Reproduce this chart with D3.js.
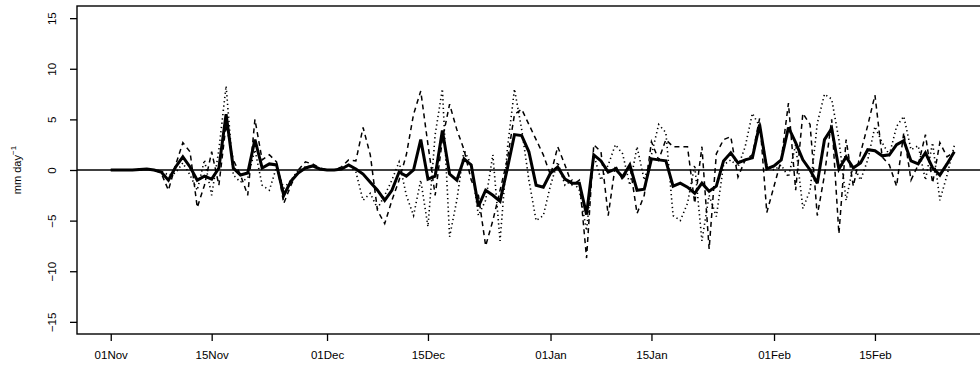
<!DOCTYPE html>
<html>
<head>
<meta charset="utf-8">
<script src="https://cdn.jsdelivr.net/npm/d3@7"></script>
<style>
html,body{margin:0;padding:0;background:#fff;}
svg{display:block;font-family:"Liberation Sans",Arial,sans-serif;}
</style>
</head>
<body>
<svg id="chart" width="980" height="376"></svg>
<script>
// ---- data (daily values, first day = 01 Nov) ----
const startDate = "1990-11-01";
const solidSeries = [
 0,0,0,0,0.05,0.1,0,-0.2,-1.0,0.3,
 1.3,0.3,-1.0,-0.6,-0.9,0.2,5.5,0.2,-0.5,-0.3,
 3.0,0.2,0.6,0.5,-2.5,-1.1,-0.3,0.2,0.4,0.1,
 0,0,0.1,0.5,0.1,-0.4,-1.2,-2.0,-3.0,-2.0,
 -0.2,-0.6,0,3.0,-0.9,-0.6,3.9,-0.4,-1.0,1.1,
 0.5,-3.6,-2.0,-2.5,-3.1,0.1,3.5,3.4,1.8,-1.5,
 -1.7,-0.3,0.3,-0.9,-1.3,-1.3,-4.4,1.5,0.9,-0.2,
 0.1,-0.7,0.5,-2.0,-1.9,1.1,1.0,0.9,-1.6,-1.3,
 -1.7,-2.3,-1.3,-2.1,-1.6,0.9,1.7,0.7,1.0,1.2,
 4.5,0.1,0.4,1.0,4.2,2.7,1.0,0,-1.3,3.0,
 4.1,0.1,1.3,0.2,0.7,2.0,1.9,1.4,1.5,2.5,
 2.9,0.9,0.6,1.7,0.2,-0.5,0.6,1.8
];
const dashedSeries = [
 0,0,0,0,0.1,0.1,0,-0.3,-2.0,0.5,
 2.7,1.8,-3.7,-1.5,1.8,-1.5,4.5,1.0,-0.5,-2.5,
 5.0,1.0,1.5,0.8,-3.3,-1.5,0,0.8,0.6,0.2,
 0,0,0.3,1.0,0.9,4.2,1.5,-4.0,-5.3,-3.0,
 -1.0,1.5,5.5,7.8,2.5,-2.5,3.0,6.5,4.0,2.0,
 -1.0,-2.5,-7.5,-5.0,-2.0,1.0,5.5,6.0,4.5,3.0,
 1.5,-0.5,2.3,0.5,-1.5,-1.0,-8.7,2.5,1.8,-4.5,
 0.5,-1.0,0.5,-4.3,-2.5,2.8,1.0,3.0,2.3,2.3,
 2.3,-3.3,2.3,-7.8,1.6,3.0,3.3,-0.7,1.0,1.5,
 5.1,-4.2,-1.6,1.0,6.6,-2.0,5.6,4.5,-4.5,-0.5,
 5.0,-6.3,3.0,-1.6,1.7,4.4,7.4,1.3,0.5,-1.6,
 3.7,-1.0,0.5,3.5,-1.3,2.7,1.3,1.8
];
const dottedSeries = [
 0,0,0,0,0,0.1,0,-0.1,-0.5,-0.3,
 0.7,-0.5,-2.0,1.0,-2.5,2.0,8.3,-0.5,-1.2,-0.8,
 2.0,-1.5,-2.0,0.3,-1.8,-1.0,0,0.3,0.4,0.1,
 0,0,0.2,0.5,-0.2,-3.0,-2.3,-3.8,-2.5,-1.0,
 0.8,-2.5,-4.5,-1.0,-5.6,3.5,8.0,-6.6,-3.0,2.0,
 0.5,-4.5,-3.0,1.5,-7.0,2.0,8.0,4.0,-1.0,-5.0,
 -4.5,-1.5,0.8,-1.5,-1.0,-2.0,-6.0,1.5,-1.0,0.5,
 2.5,1.6,-1.5,2.3,-1.0,1.5,4.5,3.7,-4.5,-5.0,
 -3.3,0.5,-7.0,-2.5,-4.6,0.5,1.0,0.3,2.3,5.6,
 4.3,0.5,0,0.5,-0.7,2.5,-3.8,-2.0,4.6,7.5,
 7.0,3.0,-3.0,0.5,-1.0,1.0,4.3,2.7,1.5,4.3,
 5.3,2.0,2.4,-1.0,2.7,-3.0,-0.5,2.4
];
const yTicks = [-15,-10,-5,0,5,10,15];
const xTickDates = ["1990-11-01","1990-11-15","1990-12-01","1990-12-15","1991-01-01","1991-01-15","1991-02-01","1991-02-15"];
const xTickLabels = ["01Nov","15Nov","01Dec","15Dec","01Jan","15Jan","01Feb","15Feb"];
const yLabel = "mm day";
const yLabelSup = "\u22121";

(function () {
// ---- layout ----
const svg = d3.select("#chart");
const parse = d3.utcParse("%Y-%m-%d");
const t0 = parse(startDate);
const dates = solidSeries.map((_, i) => d3.utcDay.offset(t0, i));
const t1 = dates[dates.length - 1];
const span = t1 - t0;
const pad = span * 0.04;
const mLeft = 77, mRight = 988, mTop = 6, mBottom = 334;

const x = d3.scaleUtc().domain([new Date(+t0 - pad), new Date(+t1 + pad)]).range([mLeft, mRight]);
const y = d3.scaleLinear().domain([-16.2, 16.2]).range([mBottom, mTop]);

// zero line
svg.append("line")
  .attr("x1", mLeft).attr("x2", mRight)
  .attr("y1", y(0)).attr("y2", y(0))
  .attr("stroke", "#000").attr("stroke-width", 1.4);

const line = d3.line().x((d, i) => x(dates[i])).y(d => y(d));

svg.append("path").datum(dottedSeries)
  .attr("d", line).attr("fill", "none").attr("stroke", "#000")
  .attr("stroke-width", 1.6).attr("stroke-dasharray", "1.3,3").attr("stroke-linecap", "butt");
svg.append("path").datum(dashedSeries)
  .attr("d", line).attr("fill", "none").attr("stroke", "#000")
  .attr("stroke-width", 1.5).attr("stroke-dasharray", "5,4");
svg.append("path").datum(solidSeries)
  .attr("d", line).attr("fill", "none").attr("stroke", "#000")
  .attr("stroke-width", 3).attr("stroke-linejoin", "miter").attr("stroke-miterlimit", 3);

// frame
svg.append("rect")
  .attr("x", mLeft).attr("y", mTop)
  .attr("width", mRight - mLeft).attr("height", mBottom - mTop)
  .attr("fill", "none").attr("stroke", "#000").attr("stroke-width", 1.4);

// y axis
const yAxis = d3.axisLeft(y).tickValues(yTicks).tickSize(7).tickFormat(d => d < 0 ? "\u2212" + Math.abs(d) : d);
const gy = svg.append("g").attr("transform", `translate(${mLeft},0)`).call(yAxis);
gy.select(".domain").remove();
gy.selectAll(".tick line").attr("stroke-width", 1.3);
gy.selectAll(".tick text")
  .attr("x", 0).attr("dy", null)
  .attr("transform", "translate(-25,0) rotate(-90)")
  .attr("text-anchor", "middle")
  .attr("dominant-baseline", "central")
  .attr("font-size", 11.5)
  .attr("font-family", "Liberation Sans, Arial, sans-serif");

// x axis
const xAxis = d3.axisBottom(x).tickValues(xTickDates.map(parse)).tickSize(7)
  .tickFormat((d, i) => xTickLabels[i]);
const gx = svg.append("g").attr("transform", `translate(0,${mBottom})`).call(xAxis);
gx.select(".domain").remove();
gx.selectAll(".tick line").attr("stroke-width", 1.3);
gx.selectAll(".tick text")
  .attr("y", 21).attr("dy", null)
  .attr("dominant-baseline", "central")
  .attr("font-size", 11.5)
  .attr("font-family", "Liberation Sans, Arial, sans-serif");

// y label
const yl = svg.append("text")
  .attr("transform", `translate(21,${y(0)}) rotate(-90)`)
  .attr("text-anchor", "middle")
  .attr("font-size", 11)
  .attr("fill", "#000");
yl.append("tspan").text(yLabel);
yl.append("tspan").attr("dy", -5).attr("font-size", 8).text(yLabelSup);
})();
</script>
</body>
</html>
